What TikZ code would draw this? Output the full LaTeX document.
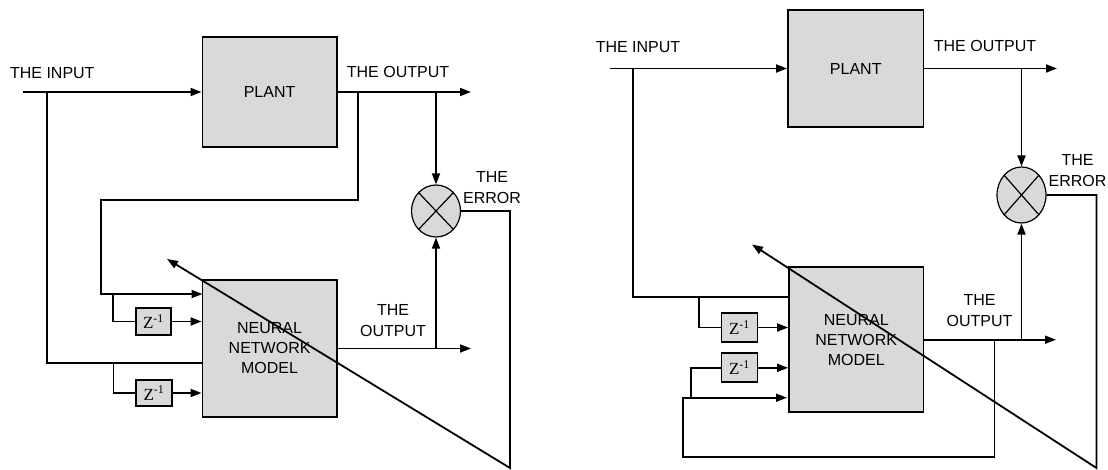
\documentclass[tikz,border=0pt]{standalone}
\usepackage{fontspec}
\setmainfont{Liberation Sans}
\newfontfamily\zfont{Liberation Serif}
\usetikzlibrary{arrows.meta,shapes.geometric}
\definecolor{boxgray}{RGB}{217,217,217}
\tikzset{
  arr/.style={-{Triangle[length=11pt,width=8pt]}},
  ln/.style={line width=1.8pt,line join=miter},
  blk/.style={draw,line width=1.8pt,fill=boxgray,inner sep=0pt,align=center,font=\fontsize{16}{20}\selectfont},
  zbox/.style={draw,line width=1.8pt,fill=boxgray,inner sep=0pt,font=\zfont\fontsize{17}{20}\selectfont},
  sumnode/.style={ellipse,draw,line width=1.2pt,fill=boxgray,inner sep=0pt},
  lbl/.style={align=center,inner sep=0pt,font=\fontsize{16}{21}\selectfont}
}
\begin{document}
\begin{tikzpicture}[x=1pt,y=-1pt]
\useasboundingbox (0,0) rectangle (1108,470);

% ================= LEFT DIAGRAM =================
\node[blk,minimum width=134.3pt,minimum height=109.7pt] (plantL) at (269.6,92) {PLANT};
\node[blk,minimum width=134.3pt,minimum height=137pt] (nnL) at (269.6,348.5) {NEURAL\\NETWORK\\MODEL};
\node[zbox,minimum width=35.7pt,minimum height=27pt] (z1L) at (153.5,321.5) {Z\textsuperscript{-1}};
\node[zbox,minimum width=35.5pt,minimum height=26pt] (z2L) at (154,393) {Z\textsuperscript{-1}};
\node[sumnode,minimum width=49pt,minimum height=52pt] (errL) at (436,211) {};
\draw[line width=1.2pt] (errL.north east) -- (errL.south west) (errL.north west) -- (errL.south east);

\node[lbl] (tinL) at (52.3,73) {THE INPUT};
\node[lbl] (toutL) at (398,72) {THE OUTPUT};
\node[lbl] (tout2L) at (393,320.5) {THE\\OUTPUT};
\node[lbl] (terrL) at (492,187.5) {THE\\ERROR};

\coordinate (inL) at (23,92);
\coordinate (outL) at (471,92);
\coordinate (jA) at (358,92);
\coordinate (cA) at (101,200);
\coordinate (pA) at (202.5,294);
\coordinate (jB) at (47,92);
\coordinate (pB) at (202.5,363);
\coordinate (jC) at (113,294);
\coordinate (jD) at (113.5,363);
\coordinate (outL2) at (471,348.5);
\coordinate (jE) at (436,348.5);
\coordinate (jF) at (436,92);
\coordinate (eL) at (510,468);
\coordinate (tipL) at (167,259);

\draw[ln,arr] (inL) -- (plantL.west);
\draw[ln,arr] (plantL.east) -- (outL);
\draw[ln,arr] (jA) |- (cA) |- (pA);
\draw[ln] (jB) |- (pB);
\draw[ln] (jC) |- (z1L.west);
\draw[ln,arr] (z1L.east) -- (z1L.east -| nnL.west);
\draw[ln] (jD) |- (z2L.west);
\draw[ln,arr] (z2L.east) -- (z2L.east -| nnL.west);
\draw[ln,arr] (nnL.east) -- (outL2);
\draw[ln,arr] (jF) -- (errL.north);
\draw[ln,arr] (jE) -- (errL.south);
\draw[ln,arr] (errL.east) -| (eL) -- (tipL);

% ================= RIGHT DIAGRAM =================
\node[blk,minimum width=135.5pt,minimum height=117pt] (plantR) at (855.75,68.5) {PLANT};
\node[blk,minimum width=134.5pt,minimum height=144.7pt] (nnR) at (856.25,339.7) {NEURAL\\NETWORK\\MODEL};
\node[zbox,minimum width=36pt,minimum height=29pt] (z1R) at (739.5,327.5) {Z\textsuperscript{-1}};
\node[zbox,minimum width=36pt,minimum height=29pt] (z2R) at (739.5,367.8) {Z\textsuperscript{-1}};
\node[sumnode,minimum width=49pt,minimum height=56pt] (errR) at (1021.5,195) {};
\draw[line width=1.2pt] (errR.north east) -- (errR.south west) (errR.north west) -- (errR.south east);

\node[lbl] (tinR) at (638,47) {THE INPUT};
\node[lbl] (toutR) at (985,46) {THE OUTPUT};
\node[lbl] (tout2R) at (979.5,310.5) {THE\\OUTPUT};
\node[lbl] (terrR) at (1077.5,170.5) {THE\\ERROR};

\coordinate (inR) at (610,68.5);
\coordinate (outR) at (1057,68.5);
\coordinate (jR1) at (1021.5,68.5);
\coordinate (jR2) at (633,68.5);
\coordinate (pR2) at (789,297);
\coordinate (jR3) at (699,297);
\coordinate (jR4) at (691,397.7);
\coordinate (jR5) at (994.5,339.7);
\coordinate (cR) at (683,456.7);
\coordinate (pR) at (787,397.7);
\coordinate (outR2) at (1056,339.7);
\coordinate (jR6) at (1021.5,339.7);
\coordinate (eR) at (1096.5,468);
\coordinate (tipR) at (752,244.5);

\draw[ln,arr] (inR) -- (plantR.west);
\draw[ln,arr] (plantR.east) -- (outR);
\draw[ln,arr] (jR1) -- (errR.north);
\draw[ln] (jR2) |- (pR2);
\draw[ln] (jR3) |- (z1R.west);
\draw[ln,arr] (z1R.east) -- (z1R.east -| nnR.west);
\draw[ln] (jR4) |- (z2R.west);
\draw[ln,arr] (z2R.east) -- (z2R.east -| nnR.west);
\draw[ln,arr] (jR5) |- (cR) |- (pR);
\draw[ln,arr] (nnR.east) -- (outR2);
\draw[ln,arr] (jR6) -- (errR.south);
\draw[ln,arr] (errR.east) -| (eR) -- (tipR);
\end{tikzpicture}
\end{document}
